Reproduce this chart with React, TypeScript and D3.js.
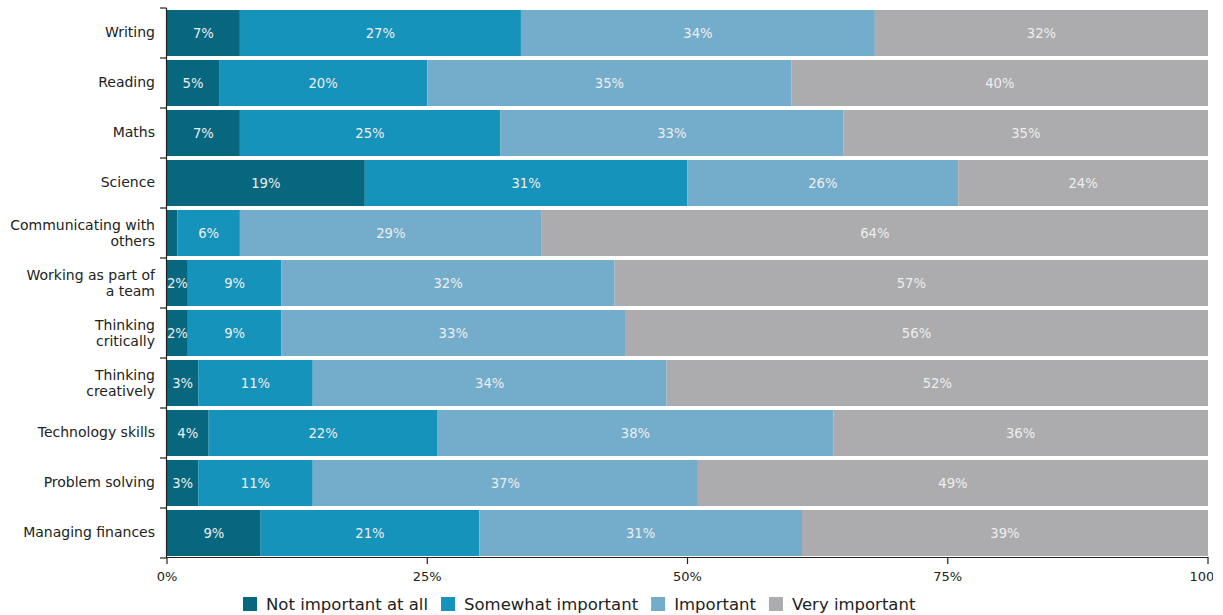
import React, { useEffect, useRef } from "react";
import * as d3 from "d3";

const categories: string[][] = [
  ["Writing"],
  ["Reading"],
  ["Maths"],
  ["Science"],
  ["Communicating with", "others"],
  ["Working as part of", "a team"],
  ["Thinking", "critically"],
  ["Thinking", "creatively"],
  ["Technology skills"],
  ["Problem solving"],
  ["Managing finances"],
];

const seriesNames = ["Not important at all", "Somewhat important", "Important", "Very important"];
const seriesColors = ["#06677f", "#1693ba", "#74adcb", "#acacae"];

const notImportant = [7, 5, 7, 19, 1, 2, 2, 3, 4, 3, 9];
const somewhatImportant = [27, 20, 25, 31, 6, 9, 9, 11, 22, 11, 21];
const important = [34, 35, 33, 26, 29, 32, 33, 34, 38, 37, 31];
const veryImportant = [32, 40, 35, 24, 64, 57, 56, 52, 36, 49, 39];

const xTicks = [0, 25, 50, 75, 100];
const xTickLabels = ["0%", "25%", "50%", "75%", "100%"];

const FONT = "'DejaVu Sans', sans-serif";

export default function App() {
  const ref = useRef<SVGSVGElement | null>(null);

  useEffect(() => {
    const svg = d3.select(ref.current);
    svg.selectAll("*").remove();

    const series = [notImportant, somewhatImportant, important, veryImportant];
    const rows = categories.map((c, i) => ({ key: String(i), label: c, values: series.map((s) => s[i]) }));

    const x = d3.scaleLinear().domain([0, 100]).range([167, 1208]);
    const y = d3
      .scaleBand<string>()
      .domain(rows.map((r) => r.key))
      .range([8, 558])
      .paddingInner(0.08)
      .paddingOuter(0.04);
    const step = y.step();

    // bars
    const g = svg.append("g");
    rows.forEach((r) => {
      let cum = 0;
      r.values.forEach((v, si) => {
        const x0 = x(cum);
        const x1 = x(cum + v);
        cum += v;
        g.append("rect")
          .attr("x", x0)
          .attr("y", y(r.key)!)
          .attr("width", x1 - x0)
          .attr("height", y.bandwidth())
          .attr("fill", seriesColors[si]);
        if (v >= 2) {
          g.append("text")
            .attr("x", (x0 + x1) / 2)
            .attr("y", y(r.key)! + y.bandwidth() / 2)
            .attr("dy", "0.35em")
            .attr("text-anchor", "middle")
            .attr("font-family", FONT)
            .attr("font-size", 13.2)
            .attr("fill", "#eeeeee")
            .text(`${v}%`);
        }
      });
    });

    // left axis
    const la = svg.append("g");
    const yTop = 8;
    const yBottom = 558;
    la.append("line")
      .attr("x1", 166.5)
      .attr("x2", 166.5)
      .attr("y1", yTop)
      .attr("y2", yBottom)
      .attr("stroke", "#222")
      .attr("stroke-width", 1.2);
    d3.range(rows.length + 1).forEach((i) => {
      const yy = yTop + i * step;
      la.append("line")
        .attr("x1", 160)
        .attr("x2", 166.5)
        .attr("y1", yy)
        .attr("y2", yy)
        .attr("stroke", "#222")
        .attr("stroke-width", 1.2);
    });
    rows.forEach((r) => {
      const c = y(r.key)! + y.bandwidth() / 2;
      const t = la
        .append("text")
        .attr("text-anchor", "end")
        .attr("font-family", FONT)
        .attr("font-size", 14)
        .attr("fill", "#222");
      if (r.label.length === 1) {
        t.append("tspan").attr("x", 155).attr("y", c).attr("dy", "0.32em").text(r.label[0]);
      } else {
        t.append("tspan").attr("x", 155).attr("y", c - 2.6).text(r.label[0]);
        t.append("tspan").attr("x", 155).attr("y", c + 12.8).text(r.label[1]);
      }
    });

    // bottom axis
    const ba = svg.append("g");
    ba.append("line")
      .attr("x1", 166)
      .attr("x2", 1208.5)
      .attr("y1", 557.5)
      .attr("y2", 557.5)
      .attr("stroke", "#222")
      .attr("stroke-width", 1.2);
    xTicks.forEach((tv, i) => {
      const xx = x(tv);
      ba.append("line")
        .attr("x1", xx)
        .attr("x2", xx)
        .attr("y1", 557.5)
        .attr("y2", 564)
        .attr("stroke", "#222")
        .attr("stroke-width", 1.2);
      ba.append("text")
        .attr("x", xx)
        .attr("y", 581)
        .attr("text-anchor", "middle")
        .attr("font-family", FONT)
        .attr("font-size", 13)
        .attr("fill", "#222")
        .text(xTickLabels[i]);
    });

    // legend
    const lg = svg.append("g");
    let lx = 243;
    seriesNames.forEach((name, i) => {
      lg.append("rect")
        .attr("x", lx)
        .attr("y", 597)
        .attr("width", 14)
        .attr("height", 14)
        .attr("fill", seriesColors[i]);
      const t = lg
        .append("text")
        .attr("x", lx + 23)
        .attr("y", 610)
        .attr("font-family", FONT)
        .attr("font-size", 16.5)
        .attr("fill", "#222")
        .text(name);
      const w = (t.node() as SVGTextElement).getComputedTextLength();
      lx = lx + 23 + w + 13;
    });
  }, []);

  return (
    <svg
      ref={ref}
      width={1213}
      height={615}
      style={{ position: "absolute", left: 0, top: 0, display: "block", overflow: "hidden", background: "#fff" }}
    />
  );
}
